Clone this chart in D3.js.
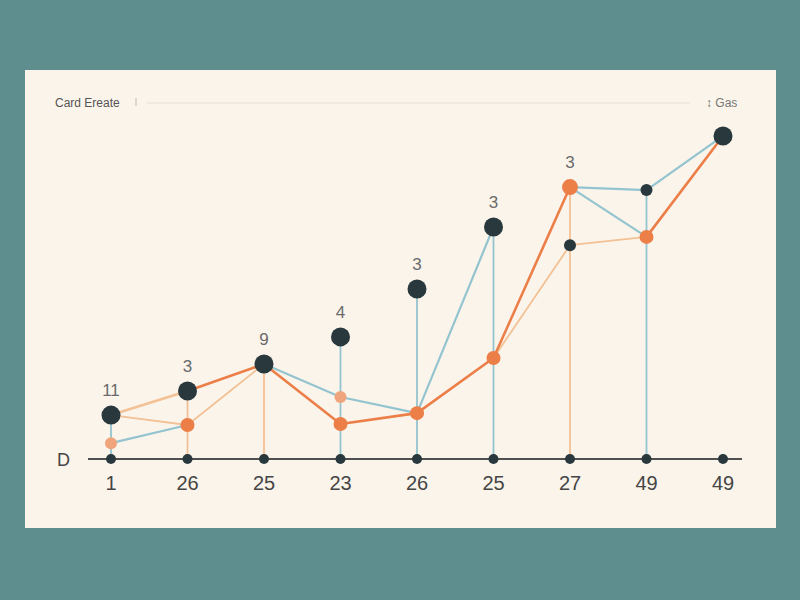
<!DOCTYPE html>
<html>
<head>
<meta charset="utf-8">
<script src="https://cdn.jsdelivr.net/npm/d3@7"></script>
<style>
  html, body { margin: 0; padding: 0; background: #5f8e8e; }
  svg { display: block; }
</style>
</head>
<body>
<svg id="chart" width="800" height="600"></svg>
<script>
// ---- data ----
const categories = ["1", "26", "25", "23", "26", "25", "27", "49", "49"];
const peakLabels = ["11", "3", "9", "4", "3", "3", "3", "", ""];
const primaryValues = [13.3, 20.6, 28.8, 37, 51.5, 70.3, null, null, 97.9];
const secondaryDots = [null, null, null, null, null, null, 64.8, 81.5, null];
const orangeValues = [13.3, 20.6, 28.8, 10.6, 13.9, 30.6, 82.4, 67.3, 97.9];
const orangeBreaks = [6];
const orangeDots = [null, 10.3, null, 10.6, 13.9, 30.6, 82.4, 67.3, null];
const blueValues = [4.8, 10.3, 28.8, 18.8, 13.9, 70.3, 82.4, 81.5, 97.9];
const blueBreaks = [1, 5];
const blueLink = [null, null, null, null, null, null, 82.4, 67.3, null];
const peachValues = [13.3, 10.3, 28.8, null, null, 30.6, 64.8, 67.3, null];
const peachDots = [4.8, null, null, 18.8, null, null, null, null, null];
const dropTops = [13.3, 20.6, 28.8, 37, 51.5, 70.3, 82.4, 81.5, null];
const dropGroup = ["b", "p", "p", "b", "b", "b", "p", "b", null];
const titleText = "Card Ereate";
const legendText = "Gas";
const axisLabel = "D";

// ---- drawing ----
const svg = d3.select("#chart");
const C = { dark: "#28383d", orange: "#ec7e48", peach: "#f2c195", peachDot: "#f0a47c", blue: "#93c4cf", grid: "#e3ddd4" };

svg.append("rect").attr("x", 0).attr("y", 0).attr("width", 800).attr("height", 600).attr("fill", "#5f8e8e");
svg.append("rect").attr("x", 25).attr("y", 70).attr("width", 751).attr("height", 458).attr("fill", "#fbf4eb");

const idx = d3.range(categories.length);
const x = d3.scalePoint().domain(idx).range([111, 723]);
const y = d3.scaleLinear().domain([0, 100]).range([459, 129]);

// header
svg.append("text").attr("x", 55).attr("y", 107).attr("font-family", "Liberation Sans, Arial, sans-serif")
  .attr("font-size", 12).attr("fill", "#555").text(titleText);
svg.append("line").attr("x1", 136).attr("x2", 136).attr("y1", 98).attr("y2", 106).attr("stroke", "#bbb").attr("stroke-width", 1);
svg.append("line").attr("x1", 147).attr("x2", 690).attr("y1", 103).attr("y2", 103).attr("stroke", C.grid).attr("stroke-width", 1.2);
svg.append("text").attr("x", 706).attr("y", 107).attr("font-family", "Liberation Sans, Arial, sans-serif")
  .attr("font-size", 12).attr("fill", "#777").text("\u2195 " + legendText);

// drop lines
const dropColor = { b: C.blue, p: C.peach };
svg.append("g").selectAll("line").data(idx.filter(i => dropTops[i] != null)).join("line")
  .attr("x1", i => x(i)).attr("x2", i => x(i))
  .attr("y1", y(0)).attr("y2", i => y(dropTops[i]))
  .attr("stroke", i => dropColor[dropGroup[i]]).attr("stroke-width", 1.8);

// segment helper
function segments(values, breaks) {
  const segs = [];
  for (let i = 0; i < values.length - 1; i++) {
    if (values[i] == null || values[i + 1] == null) continue;
    if (breaks && breaks.includes(i)) continue;
    segs.push(i);
  }
  return segs;
}
function drawSegs(values, breaks, color, width) {
  svg.append("g").selectAll("line").data(segments(values, breaks)).join("line")
    .attr("x1", i => x(i)).attr("y1", i => y(values[i]))
    .attr("x2", i => x(i + 1)).attr("y2", i => y(values[i + 1]))
    .attr("stroke", typeof color === "function" ? color : () => color)
    .attr("stroke-width", width).attr("stroke-linecap", "round");
}

drawSegs(peachValues, null, C.peach, 1.8);
drawSegs(blueValues, blueBreaks, C.blue, 2.2);
drawSegs(blueLink, null, C.blue, 2.2);
drawSegs(orangeValues, orangeBreaks, i => i === 0 ? C.peach : C.orange, 2.6);

// baseline
svg.append("line").attr("x1", 88).attr("x2", 742).attr("y1", y(0)).attr("y2", y(0))
  .attr("stroke", "#4f4f4f").attr("stroke-width", 2);
svg.append("g").selectAll("circle").data(idx).join("circle")
  .attr("cx", i => x(i)).attr("cy", y(0)).attr("r", 5).attr("fill", C.dark);

// dots
svg.append("g").selectAll("circle").data(idx.filter(i => peachDots[i] != null)).join("circle")
  .attr("cx", i => x(i)).attr("cy", i => y(peachDots[i])).attr("r", 6).attr("fill", C.peachDot);
svg.append("g").selectAll("circle").data(idx.filter(i => orangeDots[i] != null)).join("circle")
  .attr("cx", i => x(i)).attr("cy", i => y(orangeDots[i])).attr("r", i => i === 6 ? 8 : 7).attr("fill", C.orange);
svg.append("g").selectAll("circle").data(idx.filter(i => secondaryDots[i] != null)).join("circle")
  .attr("cx", i => x(i)).attr("cy", i => y(secondaryDots[i])).attr("r", 6).attr("fill", C.dark);
svg.append("g").selectAll("circle").data(idx.filter(i => primaryValues[i] != null)).join("circle")
  .attr("cx", i => x(i)).attr("cy", i => y(primaryValues[i])).attr("r", 9.5).attr("fill", C.dark);

// peak labels
svg.append("g").selectAll("text").data(idx.filter(i => peakLabels[i] !== "")).join("text")
  .attr("x", i => x(i)).attr("y", i => y(Math.max(...[primaryValues[i], orangeValues[i]].filter(v => v != null))) - 19)
  .attr("text-anchor", "middle").attr("font-family", "Liberation Sans, Arial, sans-serif")
  .attr("font-size", 17).attr("fill", "#6a6a6a").text(i => peakLabels[i]);

// x axis labels
svg.append("g").selectAll("text").data(idx).join("text")
  .attr("x", i => x(i)).attr("y", 490).attr("text-anchor", "middle")
  .attr("font-family", "Liberation Sans, Arial, sans-serif").attr("font-size", 20).attr("fill", "#454545")
  .text(i => categories[i]);
svg.append("text").attr("x", 57).attr("y", 466).attr("font-family", "Liberation Sans, Arial, sans-serif")
  .attr("font-size", 18).attr("fill", "#454545").text(axisLabel);
</script>
</body>
</html>
